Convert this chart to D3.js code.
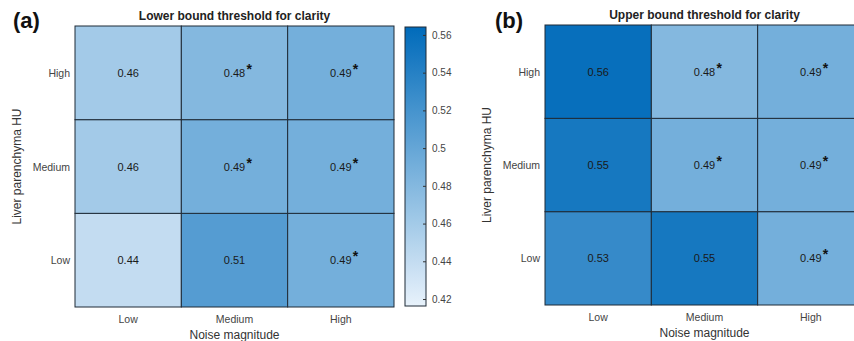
<!DOCTYPE html>
<html>
<head>
<meta charset="utf-8">
<script src="https://cdn.jsdelivr.net/npm/d3@7.9.0/dist/d3.min.js"></script>
<style>
  body { margin: 0; background: #fff; }
  svg { display: block; font-family: "Liberation Sans", Arial, sans-serif; }
</style>
</head>
<body>
<svg id="chart" width="854" height="341"></svg>
<script>
// ---------- DATA ----------
const noiseLevels = ['Low', 'Medium', 'High'];
const liverLevels = ['Low', 'Medium', 'High'];

// rows: liver HU (Low, Medium, High), cols: noise (Low, Medium, High)
const lowerValues = [
  [0.44, 0.51, 0.49],
  [0.46, 0.49, 0.49],
  [0.46, 0.48, 0.49],
];
const lowerStars = [
  [false, false, true],
  [false, true, true],
  [false, true, true],
];
const upperValues = [
  [0.53, 0.55, 0.49],
  [0.55, 0.49, 0.49],
  [0.56, 0.48, 0.49],
];
const upperStars = [
  [false, false, true],
  [false, true, true],
  [false, true, true],
];
const colorTicks = [0.42, 0.44, 0.46, 0.48, 0.5, 0.52, 0.54, 0.56];
const colorDomain = [0.4163, 0.5642];

// ---------- SETUP ----------
const svg = d3.select('#chart');
const color = d3.scaleLinear()
  .domain(colorDomain)
  .range(['#e8f2fb', '#006bba'])
  .clamp(true);

function toCells(values, stars) {
  const cells = [];
  values.forEach((row, i) => {
    row.forEach((v, j) => {
      cells.push({ liver: liverLevels[i], noise: noiseLevels[j], value: v, star: stars[i][j] });
    });
  });
  return cells;
}

// ---------- HEATMAP ----------
function drawPanel(opts) {
  const { left, right, top, bottom, title, tag, tagX, values, stars } = opts;
  const g = svg.append('g');

  const x = d3.scaleBand().domain(noiseLevels).range([left, right]);
  const y = d3.scaleBand().domain(liverLevels.slice().reverse()).range([top, bottom]);
  const cells = toCells(values, stars);

  g.selectAll('rect.cell')
    .data(cells)
    .join('rect')
    .attr('class', 'cell')
    .attr('x', (d) => x(d.noise))
    .attr('y', (d) => y(d.liver))
    .attr('width', x.bandwidth())
    .attr('height', y.bandwidth())
    .attr('fill', (d) => color(d.value))
    .attr('stroke', '#1f2a36')
    .attr('stroke-width', 1);

  g.selectAll('text.val')
    .data(cells)
    .join('text')
    .attr('class', 'val')
    .attr('x', (d) => x(d.noise) + x.bandwidth() / 2)
    .attr('y', (d) => y(d.liver) + y.bandwidth() / 2 + 4)
    .attr('text-anchor', 'middle')
    .attr('font-size', 11)
    .attr('fill', '#1a1a1a')
    .text((d) => d.value.toFixed(2));

  g.selectAll('text.star')
    .data(cells.filter((d) => d.star))
    .join('text')
    .attr('class', 'star')
    .attr('x', (d) => x(d.noise) + x.bandwidth() / 2 + 12)
    .attr('y', (d) => y(d.liver) + y.bandwidth() / 2 + 1)
    .attr('font-size', 14)
    .attr('font-weight', 'bold')
    .attr('fill', '#111')
    .text('*');

  // y tick labels
  g.selectAll('text.ytick')
    .data(liverLevels)
    .join('text')
    .attr('class', 'ytick')
    .attr('x', left - 5)
    .attr('y', (d) => y(d) + y.bandwidth() / 2 + 4)
    .attr('text-anchor', 'end')
    .attr('font-size', 10.5)
    .attr('fill', '#444')
    .text((d) => d);

  // x tick labels
  g.selectAll('text.xtick')
    .data(noiseLevels)
    .join('text')
    .attr('class', 'xtick')
    .attr('x', (d) => x(d) + x.bandwidth() / 2)
    .attr('y', bottom + 16)
    .attr('text-anchor', 'middle')
    .attr('font-size', 10.5)
    .attr('fill', '#444')
    .text((d) => d);

  g.append('text')
    .attr('x', (left + right) / 2)
    .attr('y', bottom + 32)
    .attr('text-anchor', 'middle')
    .attr('font-size', 12)
    .attr('fill', '#333')
    .text('Noise magnitude');

  g.append('text')
    .attr('transform', `translate(${left - 54},${(top + bottom) / 2}) rotate(-90)`)
    .attr('text-anchor', 'middle')
    .attr('font-size', 12)
    .attr('fill', '#333')
    .text('Liver parenchyma HU');

  g.append('text')
    .attr('x', (left + right) / 2)
    .attr('y', top - 6)
    .attr('text-anchor', 'middle')
    .attr('font-size', 12)
    .attr('font-weight', 'bold')
    .attr('fill', '#222')
    .text(title);

  g.append('text')
    .attr('x', tagX)
    .attr('y', 28)
    .attr('font-size', 22)
    .attr('font-weight', 'bold')
    .attr('fill', '#111')
    .text(tag);
}

drawPanel({
  left: 75, right: 394, top: 26, bottom: 307,
  title: 'Lower bound threshold for clarity', tag: '(a)', tagX: 13,
  values: lowerValues, stars: lowerStars,
});

drawPanel({
  left: 545, right: 864, top: 25, bottom: 305,
  title: 'Upper bound threshold for clarity', tag: '(b)', tagX: 495,
  values: upperValues, stars: upperStars,
});

// ---------- COLORBAR ----------
const cbLeft = 405, cbWidth = 21, cbTop = 27, cbBottom = 306;
const cbScale = d3.scaleLinear().domain(colorDomain).range([cbBottom, cbTop]);

const defs = svg.append('defs');
const grad = defs.append('linearGradient')
  .attr('id', 'cbgrad')
  .attr('x1', 0).attr('y1', 1).attr('x2', 0).attr('y2', 0);
d3.range(0, 1.0001, 0.1).forEach((t) => {
  grad.append('stop')
    .attr('offset', t)
    .attr('stop-color', color(colorDomain[0] + t * (colorDomain[1] - colorDomain[0])));
});

svg.append('rect')
  .attr('x', cbLeft)
  .attr('y', cbTop)
  .attr('width', cbWidth)
  .attr('height', cbBottom - cbTop)
  .attr('fill', 'url(#cbgrad)')
  .attr('stroke', '#1f2a36')
  .attr('stroke-width', 1);

const cbAxis = svg.append('g')
  .attr('transform', `translate(${cbLeft + cbWidth},0)`)
  .call(d3.axisRight(cbScale).tickValues(colorTicks).tickSizeInner(-3).tickSizeOuter(0)
    .tickPadding(6).tickFormat(d3.format('~g')));
cbAxis.select('.domain').remove();
cbAxis.selectAll('line').attr('stroke', '#333');
cbAxis.selectAll('text')
  .attr('font-size', 10)
  .attr('fill', '#444')
  .attr('font-family', '"Liberation Sans", Arial, sans-serif');
</script>
</body>
</html>
